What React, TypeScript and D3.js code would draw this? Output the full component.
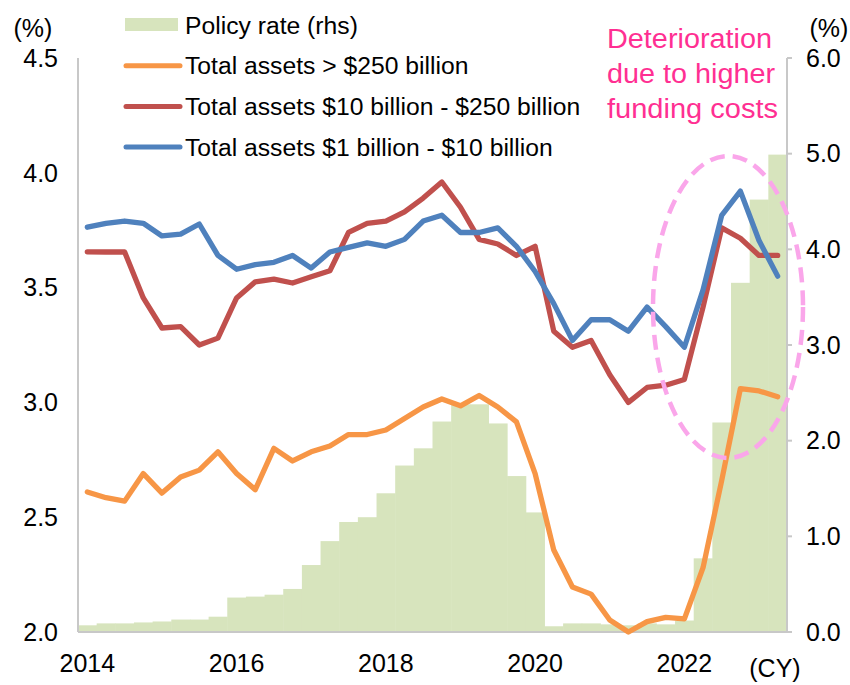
import React from "react";
import * as d3 from "d3";

const quarters: string[] = [
  "2014Q1","2014Q2","2014Q3","2014Q4",
  "2015Q1","2015Q2","2015Q3","2015Q4",
  "2016Q1","2016Q2","2016Q3","2016Q4",
  "2017Q1","2017Q2","2017Q3","2017Q4",
  "2018Q1","2018Q2","2018Q3","2018Q4",
  "2019Q1","2019Q2","2019Q3","2019Q4",
  "2020Q1","2020Q2","2020Q3","2020Q4",
  "2021Q1","2021Q2","2021Q3","2021Q4",
  "2022Q1","2022Q2","2022Q3","2022Q4",
  "2023Q1","2023Q2",
];

const policyRate: number[] = [
  0.07, 0.09, 0.09, 0.10, 0.11, 0.13, 0.13, 0.16,
  0.36, 0.37, 0.39, 0.45, 0.70, 0.95, 1.15, 1.20,
  1.45, 1.74, 1.92, 2.20, 2.38, 2.38, 2.18, 1.63,
  1.25, 0.06, 0.09, 0.09, 0.08, 0.07, 0.09, 0.08,
  0.12, 0.77, 2.19, 3.65, 4.52, 4.99,
];

const largeBanks: number[] = [
  2.61, 2.585, 2.57, 2.69, 2.605, 2.675, 2.705, 2.785,
  2.69, 2.62, 2.80, 2.745, 2.785, 2.81, 2.86, 2.86,
  2.88, 2.93, 2.98, 3.015, 2.985, 3.03, 2.98, 2.915,
  2.69, 2.357, 2.196, 2.165, 2.052, 2.0, 2.045, 2.064,
  2.057, 2.28, 2.66, 3.06, 3.05, 3.025,
];

const midBanks: number[] = [
  3.656, 3.655, 3.655, 3.455, 3.324, 3.33, 3.25, 3.28,
  3.455, 3.525, 3.537, 3.52, 3.547, 3.573, 3.74, 3.78,
  3.79, 3.83, 3.89, 3.96, 3.85, 3.71, 3.69, 3.64,
  3.68, 3.31, 3.24, 3.27, 3.12, 3.0, 3.065, 3.075,
  3.10, 3.415, 3.76, 3.715, 3.64, 3.64,
];

const smallBanks: number[] = [
  3.763, 3.78, 3.79, 3.78, 3.725, 3.733, 3.777, 3.64,
  3.58, 3.60, 3.61, 3.64, 3.585, 3.655, 3.675, 3.695,
  3.68, 3.71, 3.79, 3.815, 3.74, 3.74, 3.76, 3.68,
  3.57, 3.43, 3.27, 3.36, 3.36, 3.31, 3.415, 3.33,
  3.24, 3.49, 3.815, 3.92, 3.705, 3.55,
];

const xTickQuarters: string[] = ["2014Q1", "2016Q1", "2018Q1", "2020Q1", "2022Q1"];
const xTickLabels: string[] = ["2014", "2016", "2018", "2020", "2022"];
const leftTicks: number[] = [2.0, 2.5, 3.0, 3.5, 4.0, 4.5];
const rightTicks: number[] = [0, 1, 2, 3, 4, 5, 6];

const legendItems = [
  { label: "Policy rate (rhs)", color: "#D7E4BD", kind: "bar" },
  { label: "Total assets > $250 billion", color: "#F79646", kind: "line" },
  { label: "Total assets $10 billion - $250 billion", color: "#C0504D", kind: "line" },
  { label: "Total assets $1 billion - $10 billion", color: "#4F81BD", kind: "line" },
];

const annotationLines: string[] = ["Deterioration", "due to higher", "funding costs"];

const FONT = "'Liberation Sans', Arial, Helvetica, sans-serif";

export default function App() {
  const W = 850, H = 685;
  const left = 78, right = 787, top = 58, bottom = 632;

  const x = d3.scaleBand<string>().domain(quarters).range([left, right]).padding(0);
  const yL = d3.scaleLinear().domain([2, 4.5]).range([bottom, top]);
  const yR = d3.scaleLinear().domain([0, 6]).range([bottom, top]);
  const cx = (q: string) => (x(q) as number) + x.bandwidth() / 2;

  const line = d3
    .line<number>()
    .x((_, i) => cx(quarters[i]))
    .y((d) => yL(d));

  const series = [
    { data: largeBanks, color: "#F79646" },
    { data: midBanks, color: "#C0504D" },
    { data: smallBanks, color: "#4F81BD" },
  ];

  const axisColor = "#C8C8C8";

  return (
    <svg
      width={W}
      height={H}
      style={{ position: "absolute", left: 0, top: 0, background: "#fff" }}
      fontFamily={FONT}
    >
      <rect x={0} y={0} width={W} height={H} fill="#fff" />

      {quarters.map((q, i) => (
        <rect
          key={q}
          x={x(q) as number}
          y={yR(policyRate[i])}
          width={x.bandwidth() + 0.5}
          height={bottom - yR(policyRate[i])}
          fill="#D7E4BD"
        />
      ))}

      <line x1={left} x2={left} y1={top} y2={bottom} stroke={axisColor} strokeWidth={2} />
      <line x1={right} x2={right} y1={top} y2={bottom} stroke={axisColor} strokeWidth={2} />
      <line x1={left} x2={right} y1={bottom} y2={bottom} stroke={axisColor} strokeWidth={2} />
      {rightTicks.map((t) => (
        <line key={"rt" + t} x1={right} x2={right + 5} y1={yR(t)} y2={yR(t)} stroke={axisColor} strokeWidth={2} />
      ))}

      {series.map((s, k) => (
        <path
          key={k}
          d={line(s.data) as string}
          fill="none"
          stroke={s.color}
          strokeWidth={5.3}
          strokeLinejoin="round"
          strokeLinecap="round"
        />
      ))}

      <ellipse
        cx={728}
        cy={307}
        rx={75}
        ry={151}
        fill="none"
        stroke="#FAA6EA"
        strokeWidth={4.5}
        strokeDasharray="15 8"
      />

      {leftTicks.map((t) => (
        <text key={"l" + t} x={58} y={yL(t)} dy="0.35em" textAnchor="end" fontSize={25} fill="#000">
          {t.toFixed(1)}
        </text>
      ))}
      {rightTicks.map((t) => (
        <text key={"r" + t} x={806} y={yR(t)} dy="0.35em" textAnchor="start" fontSize={25} fill="#000">
          {t.toFixed(1)}
        </text>
      ))}
      {xTickQuarters.map((q, i) => (
        <text key={q} x={cx(q)} y={663} dy="0.35em" textAnchor="middle" fontSize={25} fill="#000">
          {xTickLabels[i]}
        </text>
      ))}
      <text x={775} y={668} dy="0.35em" textAnchor="middle" fontSize={25} fill="#000">(CY)</text>
      <text x={33} y={28} dy="0.35em" textAnchor="middle" fontSize={25} fill="#000">(%)</text>
      <text x={829} y={28} dy="0.35em" textAnchor="middle" fontSize={25} fill="#000">(%)</text>

      {legendItems.map((it, i) => {
        const yy = 25 + i * 40.7;
        return (
          <g key={it.label}>
            {it.kind === "bar" ? (
              <rect x={125} y={yy - 7} width={53} height={13} fill={it.color} />
            ) : (
              <line x1={126} x2={180} y1={yy} y2={yy} stroke={it.color} strokeWidth={5} strokeLinecap="round" />
            )}
            <text x={185} y={yy} dy="0.35em" fontSize={24.7} fill="#000">
              {it.label}
            </text>
          </g>
        );
      })}

      {annotationLines.map((t, i) => (
        <text
          key={t}
          x={607}
          y={48 + i * 35}
          fontSize={27}
          fill="#FF2F92"
          textLength={[165, 168, 171][i]}
          lengthAdjust="spacingAndGlyphs"
        >
          {t}
        </text>
      ))}
    </svg>
  );
}
